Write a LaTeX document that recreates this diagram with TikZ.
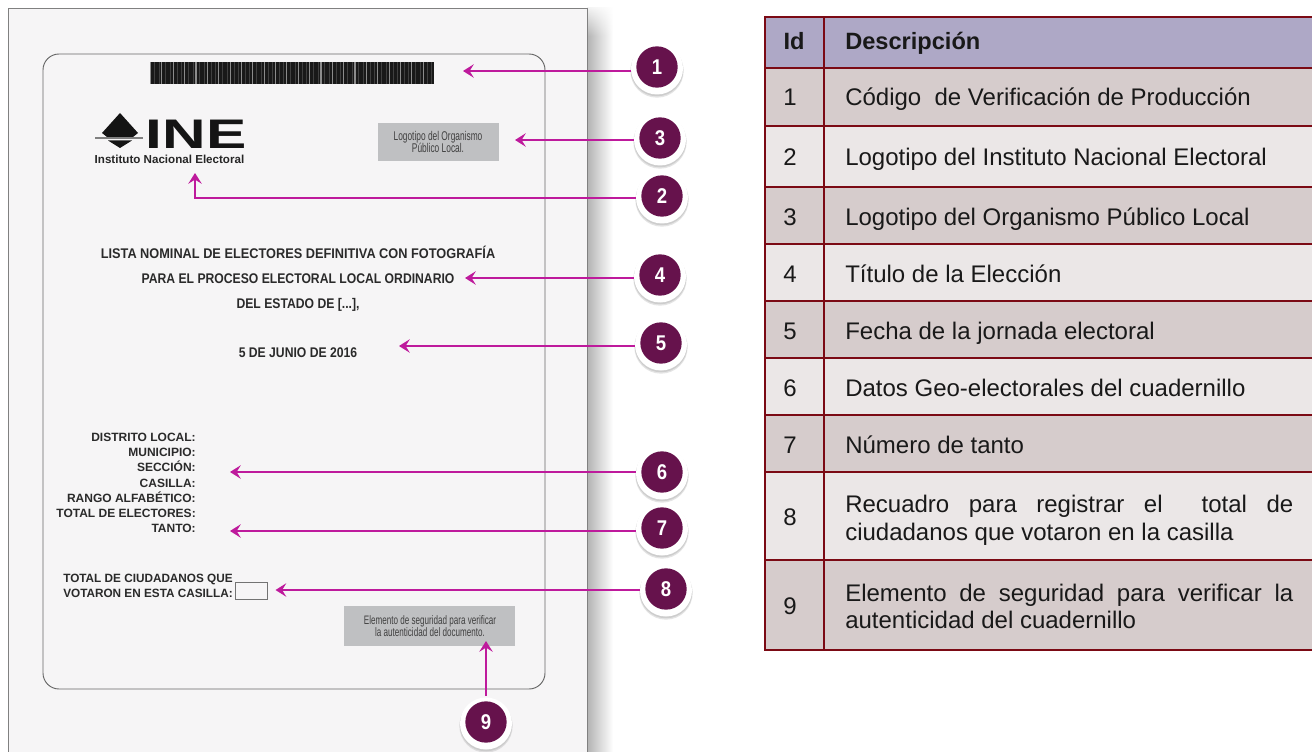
\documentclass[tikz,border=0pt]{standalone}
\usepackage{fontspec}
\setmainfont{Liberation Sans}
\newfontfamily\titlef[FakeStretch=0.87]{Liberation Sans}
\newfontfamily\badgef[FakeStretch=0.87]{Liberation Sans}
\newfontfamily\thinf[FakeStretch=0.66]{Liberation Sans}
\usetikzlibrary{arrows.meta,shadings,fadings,calc}
\definecolor{pagefill}{HTML}{F6F5F6}
\definecolor{arrowc}{HTML}{BE1A9C}
\definecolor{wine}{HTML}{66124C}
\definecolor{tline}{HTML}{7B0A14}
\definecolor{thead}{HTML}{AEA8C6}
\definecolor{tdark}{HTML}{D6CCCC}
\definecolor{tlight}{HTML}{EBE7E7}
\definecolor{greybox}{HTML}{BFC0C2}
\definecolor{labelc}{HTML}{2A2A2A}
\tikzset{
  pointer/.style={draw=arrowc,line width=1.7pt,shorten <=4pt,-{Stealth[length=8pt,width=10pt,inset=3pt]}},
  badge/.style={circle,fill=wine,text=white,minimum size=31pt,inner sep=0pt,font=\badgef\bfseries\fontsize{16}{16}\selectfont},
  doctitle/.style={inner sep=0pt,anchor=base,text=labelc,font=\titlef\bfseries\fontsize{10.5}{11}\selectfont},
  doclabel/.style={inner sep=0pt,anchor=base east,text=labelc,font=\bfseries\fontsize{9}{11}\selectfont},
  greytext/.style={inner sep=0pt,anchor=base,text=black!75,font=\thinf\fontsize{9.5}{10}\selectfont},
  greytextb/.style={greytext,font=\thinf\fontsize{9.2}{10}\selectfont},
  idtext/.style={inner sep=0pt,anchor=base,text=black!90,font=\fontsize{18}{21}\selectfont},
  desctext/.style={inner sep=0pt,anchor=base west,text=black!90,font=\fontsize{18}{21}\selectfont},
  headtext/.style={font=\bfseries\fontsize{17.7}{21}\selectfont},
  tableline/.style={draw=tline,line width=2.1pt},
}
% halo below a badge
\newcommand{\halo}[2]{%
  \fill[black!30,opacity=.35] (#1,#2+4) circle[radius=20pt];
  \fill[black!25,opacity=.6] (#1,#2+3) circle[radius=19.7pt];
  \fill[white] (#1,#2+1.5) circle[radius=19.5pt];}
\begin{document}
\begin{tikzpicture}[x=.75pt,y=-.75pt]
\useasboundingbox (0,0) rectangle (1312,752);
\clip (0,0) rectangle (1312,752);
\fill[white] (0,0) rectangle (1312,752);
% page shadow
\shade[left color=black!30,middle color=black!18,right color=white] (587,8) rectangle (613,760);
\fill[white,path fading=south] (585,2) rectangle (616,36);
% page
\draw[fill=pagefill,draw=black!50,line width=.6pt] (8,8) rectangle (587,770);
\draw[draw=black!60,line width=.7pt,rounded corners=12pt] (43,54) rectangle (545,689);
% barcode
\fill[black!90] (150,62) rectangle (434,84);
\foreach \i in {0,...,24} {
  \fill[black!45] (150+11.36*\i,62) rectangle ++(1.1,22);
  \fill[black!75] (154+11.36*\i,62) rectangle ++(.7,22);
  \fill[black!75] (158.5+11.36*\i,62) rectangle ++(.6,22);
}
% INE logo
\fill[black!92] (120,113) -- (138,133) -- (133,137) -- (107,137) -- (102,133) -- cycle;
\fill[black!92] (108,140.5) -- (132,140.5) -- (120,148) -- cycle;
\fill[black!50] (95,137.5) rectangle (143,139.5);
\node[inner sep=0pt,anchor=base,text=black!92] (inetext) at (196,149)
  {\scalebox{1.46}[1]{\bfseries\fontsize{31}{31}\selectfont INE}};
\node[inner sep=0pt,anchor=base,text=black!85,font=\bfseries\fontsize{8.7}{9}\selectfont] (inename) at (169.5,164) {Instituto Nacional Electoral};
% grey boxes
\node[fill=greybox,minimum width=91pt,minimum height=28.5pt,inner sep=0pt] (opl) at (438.5,142) {};
\node[greytext] (opltext) at (438,141) {Logotipo del Organismo};
\node[greytext] (opltext2) at (438,153) {Público Local.};
\node[fill=greybox,minimum width=128pt,minimum height=30pt,inner sep=0pt] (seg) at (429.5,626) {};
\node[greytextb] (segtext) at (430,624) {Elemento de seguridad para verificar};
\node[greytextb] (segtext2) at (430,636) {la autenticidad del documento.};
% titles
\node[doctitle] (t-a) at (298,258) {\scalebox{1.047}[1]{LISTA NOMINAL DE ELECTORES DEFINITIVA CON FOTOGRAFÍA}};
\node[doctitle] (t-b) at (298,283) {PARA EL PROCESO ELECTORAL LOCAL ORDINARIO};
\node[doctitle] (t-c) at (298,308) {DEL ESTADO DE [...],};
\node[doctitle] (t-d) at (298,357) {5 DE JUNIO DE 2016};
% labels
\node[doclabel] (l1) at (196,441) {DISTRITO LOCAL:};
\node[doclabel] (l2) at (196,456) {MUNICIPIO:};
\node[doclabel] (l3) at (196,471.5) {SECCIÓN:};
\node[doclabel] (l4) at (196,487) {CASILLA:};
\node[doclabel] (l5) at (196,502) {RANGO ALFABÉTICO:};
\node[doclabel] (l6) at (196,517.5) {TOTAL DE ELECTORES:};
\node[doclabel] (l7) at (196,532.5) {TANTO:};
\node[doclabel] (l8) at (233,582) {\scalebox{.98}[1]{TOTAL DE CIUDADANOS QUE}};
\node[doclabel] (l9) at (233,597.5) {\scalebox{.98}[1]{VOTARON EN ESTA CASILLA:}};
\node[draw=black!55,line width=.6pt,minimum width=24pt,minimum height=12.8pt,inner sep=0pt,fill=pagefill] (votebox) at (251.7,590.5) {};
% targets
\coordinate (t1) at (463,71);
\coordinate (t3) at (515,140);
\coordinate (k2) at (195,198);
\coordinate (t2) at (195,173);
\coordinate (t4) at (465,278);
\coordinate (t5) at (399,346);
\coordinate (t6) at (230,472);
\coordinate (t7) at (230,531);
\coordinate (t8) at (275.5,590);
\coordinate (t9) at (486,641);
% halos
\halo{657}{67}\halo{660}{138}\halo{662}{196}\halo{660}{275}\halo{661}{343}\halo{662}{472}\halo{662}{528}\halo{666}{589}\halo{486}{722}
\node[badge] (c1) at (657,67) {1};
\node[badge] (c3) at (660,138) {3};
\node[badge] (c2) at (662,196) {2};
\node[badge] (c4) at (660,275) {4};
\node[badge] (c5) at (661,343) {5};
\node[badge] (c6) at (662,472) {6};
\node[badge] (c7) at (662,528) {7};
\node[badge] (c8) at (666,589) {8};
\node[badge] (c9) at (486,722) {9};
% connectors
\draw[pointer] (c1.west |- t1) -- (t1);
\draw[pointer] (c3.west |- t3) -- (t3);
\draw[pointer] (c2.west |- k2) -- (k2) -- (t2);
\draw[pointer] (c4.west |- t4) -- (t4);
\draw[pointer] (c5.west |- t5) -- (t5);
\draw[pointer] (c6.west |- t6) -- (t6);
\draw[pointer] (c7.west |- t7) -- (t7);
\draw[pointer] (c8.west |- t8) -- (t8);
\draw[pointer] (c9.north) -- (t9);
% table fills
\fill[thead] (765,17) rectangle (1312,68);
\fill[tdark] (765,68) rectangle (1312,126);
\fill[tlight] (765,126) rectangle (1312,187);
\fill[tdark] (765,187) rectangle (1312,244);
\fill[tlight] (765,244) rectangle (1312,301);
\fill[tdark] (765,301) rectangle (1312,358);
\fill[tlight] (765,358) rectangle (1312,415);
\fill[tdark] (765,415) rectangle (1312,472);
\fill[tlight] (765,472) rectangle (1312,560);
\fill[tdark] (765,560) rectangle (1312,650);
% table lines
\foreach \yy in {17,68,126,187,244,301,358,415,472,560,650}
  \draw[tableline] (764,\yy) -- (1312,\yy);
\draw[tableline] (765,16) -- (765,651);
\draw[tableline] (824,17) -- (824,650);
% table text
\node[idtext,headtext] (h1) at (794,50) {Id};
\node[desctext,headtext] (h2) at (845,50) {Descripción};
\node[idtext] (i1) at (790,106) {1};
\node[desctext] (d1) at (845,106) {Código\ \ de Verificación de Producción};
\node[idtext] (i2) at (790,166) {2};
\node[desctext] (d2) at (845,166) {Logotipo del Instituto Nacional Electoral};
\node[idtext] (i3) at (790,225) {3};
\node[desctext] (d3) at (845,225) {Logotipo del Organismo Público Local};
\node[idtext] (i4) at (790,282) {4};
\node[desctext] (d4) at (845,282) {Título de la Elección};
\node[idtext] (i5) at (790,339) {5};
\node[desctext] (d5) at (845,339) {Fecha de la jornada electoral};
\node[idtext] (i6) at (790,396) {6};
\node[desctext] (d6) at (845,396) {Datos Geo-electorales del cuadernillo};
\node[idtext] (i7) at (790,453) {7};
\node[desctext] (d7) at (845,453) {Número de tanto};
\node[idtext] (i8) at (790,525) {8};
\node[desctext] (d8) at (845,512) {\makebox[336pt][s]{Recuadro para registrar el\ \ total de}};
\node[desctext] (d8b) at (845,540) {ciudadanos que votaron en la casilla};
\node[idtext] (i9) at (790,614) {9};
\node[desctext] (d9) at (845,601) {\makebox[336pt][s]{Elemento de seguridad para verificar la}};
\node[desctext] (d9b) at (845,628) {autenticidad del cuadernillo};
\end{tikzpicture}
\end{document}
